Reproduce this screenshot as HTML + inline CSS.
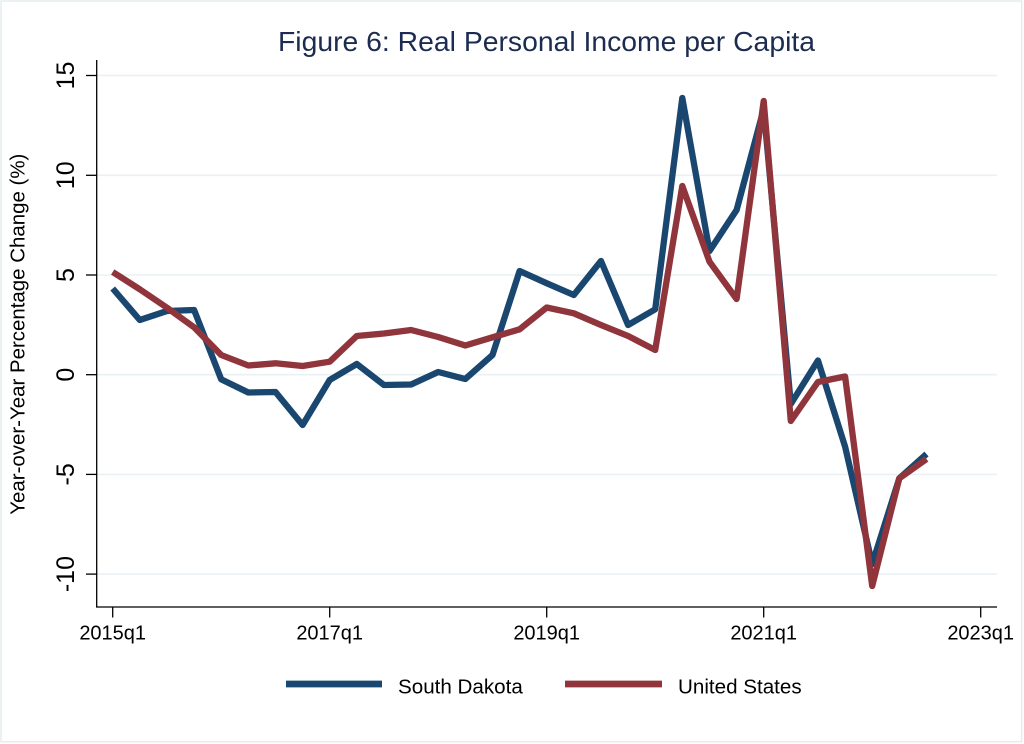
<!DOCTYPE html>
<html>
<head>
<meta charset="utf-8">
<style>
  html, body { margin:0; padding:0; background:#ffffff; }
  body { width:1024px; height:744px; overflow:hidden; }
  svg { display:block; }
  text { font-family: "Liberation Sans", "DejaVu Sans", sans-serif; }
</style>
</head>
<body>
<svg width="1024" height="744" viewBox="0 0 1024 744" xmlns="http://www.w3.org/2000/svg">
  <rect x="0" y="0" width="1024" height="744" fill="#ffffff"/>
  <rect x="1" y="1" width="1020.7" height="740.7" fill="#ffffff" stroke="#e6edf1" stroke-width="1.5"/>

  <!-- Title -->
  <text x="546.5" y="51" font-size="28" fill="#1c2b50" text-anchor="middle" textLength="537" lengthAdjust="spacingAndGlyphs">Figure 6: Real Personal Income per Capita</text>

  <!-- Gridlines -->
  <g stroke="#eaf1f4" stroke-width="1.6">
    <line x1="97" y1="75.5" x2="997" y2="75.5"/>
    <line x1="97" y1="175.3" x2="997" y2="175.3"/>
    <line x1="97" y1="275" x2="997" y2="275"/>
    <line x1="97" y1="374.7" x2="997" y2="374.7"/>
    <line x1="97" y1="474.4" x2="997" y2="474.4"/>
    <line x1="97" y1="574.1" x2="997" y2="574.1"/>
  </g>

  <!-- Axes -->
  <g stroke="#000000" stroke-width="1.3" fill="none">
    <line x1="96.7" y1="60" x2="96.7" y2="607.5"/>
    <line x1="96" y1="607" x2="997" y2="607"/>
    <!-- y ticks -->
    <line x1="86" y1="75.5" x2="96.7" y2="75.5"/>
    <line x1="86" y1="175.3" x2="96.7" y2="175.3"/>
    <line x1="86" y1="275" x2="96.7" y2="275"/>
    <line x1="86" y1="374.7" x2="96.7" y2="374.7"/>
    <line x1="86" y1="474.4" x2="96.7" y2="474.4"/>
    <line x1="86" y1="574.1" x2="96.7" y2="574.1"/>
    <!-- x ticks -->
    <line x1="112.7" y1="607" x2="112.7" y2="617.5"/>
    <line x1="329.7" y1="607" x2="329.7" y2="617.5"/>
    <line x1="546.7" y1="607" x2="546.7" y2="617.5"/>
    <line x1="763.7" y1="607" x2="763.7" y2="617.5"/>
    <line x1="980.7" y1="607" x2="980.7" y2="617.5"/>
  </g>

  <!-- Y tick labels (rotated) -->
  <g font-size="25" fill="#000000" text-anchor="middle">
    <text transform="translate(74,75.5) rotate(-90)">15</text>
    <text transform="translate(74,175.3) rotate(-90)">10</text>
    <text transform="translate(74,275) rotate(-90)">5</text>
    <text transform="translate(74,374.7) rotate(-90)">0</text>
    <text transform="translate(74,474.4) rotate(-90)">-5</text>
    <text transform="translate(74,574.1) rotate(-90)">-10</text>
  </g>

  <!-- Y axis title -->
  <text transform="translate(24.5,334.2) rotate(-90)" font-size="20.3" fill="#000000" text-anchor="middle" textLength="361" lengthAdjust="spacingAndGlyphs">Year-over-Year Percentage Change (%)</text>

  <!-- X tick labels -->
  <g font-size="20" fill="#000000" text-anchor="middle">
    <text x="112.7" y="639.3">2015q1</text>
    <text x="329.7" y="639.3">2017q1</text>
    <text x="546.7" y="639.3">2019q1</text>
    <text x="763.7" y="639.3">2021q1</text>
    <text x="980.7" y="639.3">2023q1</text>
  </g>

  <!-- South Dakota series -->
  <polyline fill="none" stroke="#1a476f" stroke-width="6.3" stroke-linejoin="round" stroke-linecap="butt"
    points="
    112.7,288.5
    139.8,320
    166.95,311
    194.1,310
    221.2,379.3
    248.3,392.5
    275.5,392
    302.6,425
    329.7,380
    356.8,364
    383.95,385
    411.1,384.5
    438.2,372
    465.3,379
    492.5,355
    519.6,271
    546.7,283.3
    573.8,295
    600.95,261
    628.1,325
    655.2,309.3
    682.3,98
    709.5,251
    736.6,210
    763.7,109
    790.8,404
    817.95,360.5
    845.1,446.7
    872.2,564
    899.3,478.3
    926.5,454"/>

  <!-- United States series -->
  <polyline fill="none" stroke="#90353b" stroke-width="6.3" stroke-linejoin="round" stroke-linecap="butt"
    points="
    112.7,272
    139.8,289.3
    166.95,307.7
    194.1,327.3
    221.2,355
    248.3,365.5
    275.5,363.3
    302.6,366
    329.7,361.7
    356.8,336
    383.95,333.5
    411.1,330
    438.2,337
    465.3,345.5
    492.5,337.3
    519.6,329.3
    546.7,307.5
    573.8,313.3
    600.95,325
    628.1,336
    655.2,350
    682.3,186
    709.5,261.7
    736.6,299
    763.7,101
    790.8,421
    817.95,382
    845.1,376.5
    872.2,586
    899.3,478.3
    926.5,459"/>

  <!-- Legend -->
  <line x1="286" y1="684" x2="382" y2="684" stroke="#1a476f" stroke-width="6.7"/>
  <text x="398" y="693.3" font-size="20.6" fill="#000000">South Dakota</text>
  <line x1="565" y1="684" x2="662" y2="684" stroke="#90353b" stroke-width="6.7"/>
  <text x="678" y="693.3" font-size="20.6" fill="#000000">United States</text>
</svg>
</body>
</html>
